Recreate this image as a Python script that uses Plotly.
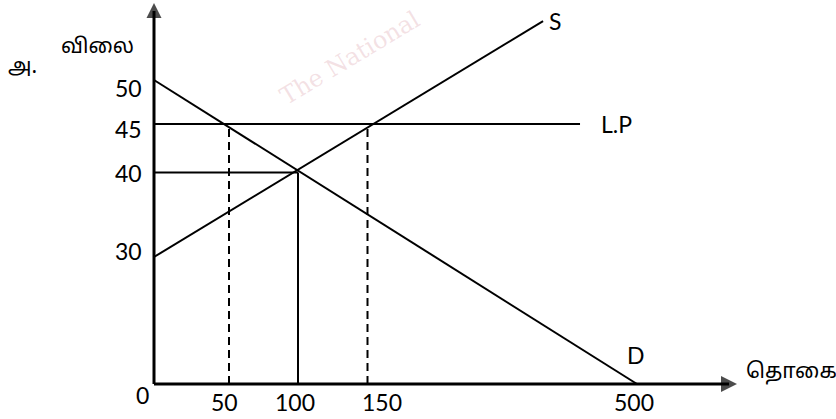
"""
Import diagram under free trade: domestic demand D, domestic supply S and
the world price line L.P, drawn as a schematic (not-to-scale) sketch.
"""

import numpy as np
import plotly.graph_objects as go

# --- values printed on the diagram ---
quantity_ticks = [50, 100, 150, 500]
price_ticks = [50, 45, 40, 30]

demand_q = [0, 500]
demand_p = [50, 0]
supply_q = [0, 378]
supply_p = [30, 56.7]
world_price = 45
world_price_q = [0, 426]
equilibrium_q = 100
equilibrium_p = 40
import_q = [50, 150]

# --- schematic scale: the sketch is not drawn to scale ---
Q_KNOTS = [0, 50, 100, 150, 500]
Q_POS = [0, 75, 144, 213.5, 483]
P_KNOTS = [0, 30, 40, 45, 50]
P_POS = [0, 127, 211.5, 260, 304]

AXIS_X_END = 583
AXIS_Y_END = 381

INK = "#000000"
FONT = "Lato, 'Open Sans', sans-serif"
TAMIL_FONT = "'Noto Sans Tamil', 'Latha', 'Noto Sans', sans-serif"


def _scale(values, knots, pos):
    v = np.asarray(values, dtype=float)
    out = np.interp(v, knots, pos)
    slope = (pos[-1] - pos[-2]) / (knots[-1] - knots[-2])
    hi = v > knots[-1]
    out[hi] = pos[-1] + (v[hi] - knots[-1]) * slope
    return out


def qx(values):
    return _scale(values, Q_KNOTS, Q_POS)


def py(values):
    return _scale(values, P_KNOTS, P_POS)


def seg(fig, q, p, dash="solid", width=2):
    fig.add_trace(
        go.Scatter(
            x=qx(q), y=py(p), mode="lines",
            line=dict(color=INK, width=width, dash=dash),
            hoverinfo="skip", showlegend=False
        )
    )


fig = go.Figure()

# axes with arrow heads
fig.add_trace(go.Scatter(x=[0, AXIS_X_END - 8], y=[0, 0], mode="lines",
                         line=dict(color=INK, width=3), hoverinfo="skip", showlegend=False))
fig.add_trace(go.Scatter(x=[0, 0], y=[0, AXIS_Y_END - 8], mode="lines",
                         line=dict(color=INK, width=3), hoverinfo="skip", showlegend=False))
fig.add_trace(go.Scatter(x=[AXIS_X_END, 0], y=[0, AXIS_Y_END], mode="markers",
                         marker=dict(symbol=["arrow-right", "arrow-up"], size=[16, 15],
                                     color=INK, line=dict(width=0)),
                         hoverinfo="skip", showlegend=False, cliponaxis=False))

# curves
seg(fig, demand_q, demand_p)
seg(fig, supply_q, supply_p)
seg(fig, world_price_q, [world_price, world_price])
seg(fig, [0, equilibrium_q], [equilibrium_p, equilibrium_p])
seg(fig, [equilibrium_q, equilibrium_q], [0, equilibrium_p])
for q in import_q:
    seg(fig, [q, q], [0, world_price], dash="8px,5px")

annotations = []
label_font = dict(family=FONT, size=23, color=INK)

# x tick labels
x_shift = [-5, -3, 14, -3]
for q, dx in zip(quantity_ticks, x_shift):
    annotations.append(dict(x=float(qx([q])[0]), y=0, text=str(q), showarrow=False,
                            xanchor="center", yanchor="middle", xshift=dx, yshift=-18,
                            font=label_font))
annotations.append(dict(x=0, y=0, text="0", showarrow=False, xanchor="center",
                        yanchor="middle", xshift=-12, yshift=-11, font=label_font))

# y tick labels
y_shift = [-8, -5, 0, 6]
for p, dy in zip(price_ticks, y_shift):
    annotations.append(dict(x=0, y=float(py([p])[0]), text=str(p), showarrow=False,
                            xanchor="right", yanchor="middle", xshift=-10, yshift=dy,
                            font=label_font))

# curve labels
annotations += [
    dict(x=float(qx([supply_q[-1]])[0]), y=float(py([supply_p[-1]])[0]), text="S",
         showarrow=False, xanchor="left", yanchor="middle", xshift=4, font=label_font),
    dict(x=float(qx([world_price_q[-1]])[0]), y=float(py([world_price])[0]), text="L.P",
         showarrow=False, xanchor="left", yanchor="middle", xshift=19, font=label_font),
    dict(x=float(qx([demand_q[-1]])[0]), y=0, text="D", showarrow=False,
         xanchor="center", yanchor="middle", xshift=-1, yshift=29, font=label_font),
    dict(x=AXIS_X_END, y=0, text="தொகை", showarrow=False, xanchor="left",
         yanchor="middle", xshift=7, yshift=11,
         font=dict(family=TAMIL_FONT, size=21, color=INK)),
    dict(x=97 / 836, y=1 - 48 / 419, xref="paper", yref="paper", text="விலை",
         showarrow=False, xanchor="center", yanchor="middle",
         font=dict(family=TAMIL_FONT, size=21, color=INK)),
    dict(x=22 / 836, y=1 - 68 / 419, xref="paper", yref="paper", text="அ.",
         showarrow=False, xanchor="center", yanchor="middle",
         font=dict(family=TAMIL_FONT, size=21, color=INK)),
    # faint watermark
    dict(x=350 / 836, y=1 - 58 / 419, xref="paper", yref="paper", text="The National",
         showarrow=False, textangle=-31, xanchor="center", yanchor="middle",
         font=dict(family="DejaVu Serif", size=24, color="rgba(215,150,160,0.28)")),
]

fig.update_layout(
    width=836,
    height=419,
    margin=dict(l=0, r=0, t=0, b=0),
    paper_bgcolor="white",
    plot_bgcolor="white",
    xaxis=dict(range=[-154, 682], visible=False, fixedrange=True),
    yaxis=dict(range=[-35, 384], visible=False, fixedrange=True),
    annotations=annotations,
    showlegend=False
)

fig.write_html(
    "out.html",
    config={"displayModeBar": False},
    post_script="document.body.style.margin='0';document.body.style.overflow='hidden';"
)
